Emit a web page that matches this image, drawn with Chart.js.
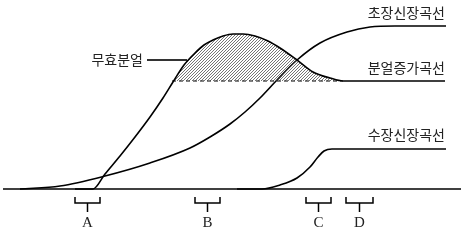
<!DOCTYPE html>
<html>
  <head>
    <meta charset="utf-8">
    <title>분얼 곡선</title>
    <style>
      body { margin: 0; background: #fff; }
      #rame { width: 463px; height: 240px; }
    </style>
  </head>
  <body>
    <div id="rame">
      <canvas id="chart" width="463" height="240"></canvas>
    </div>

    <script src="https://cdn.jsdelivr.net/npm/chart.js"></script>
    <script>
      // values (x along time, y = height above the base line)
      const stemX = [20, 60, 105, 150, 190, 210, 230, 245, 260, 277, 297, 320, 347, 370, 395, 446];
      const stemY = [0, 3, 13, 26, 41, 52, 65, 77, 91, 109, 129, 146, 157, 162, 163, 163];

      const tillerX = [75, 93, 105, 120, 135, 150, 163, 173, 184, 195, 204, 213, 223, 233, 243, 255, 268, 280, 297, 313, 330, 343, 445];
      const tillerY = [0, 0, 15, 33, 52, 72, 91, 107, 124, 136, 144, 149, 153, 155, 155, 153, 148, 141, 129, 117, 111, 108, 108];

      const panicleX = [237, 262, 280, 297, 310, 318, 324, 332, 446];
      const panicleY = [0, 0, 4, 11, 22, 32, 38, 40, 40];

      const effectiveLevel = 108;
      const dashStart = 172, dashEnd = 343;

      const bracketNames = ['A', 'B', 'C', 'D'];
      const bracketLeft = [75, 195, 306, 346];
      const bracketRight = [100, 220, 331, 373];

      const curveLabels = ['초장신장곡선', '분얼증가곡선', '수장신장곡선'];
      const curveLabelY = [176, 121, 54];

      const toPts = (xs, ys) => xs.map((x, i) => ({ x: x, y: ys[i] }));

      // hatch pattern ////
      const pc = document.createElement('canvas');
      pc.width = 3; pc.height = 3;
      const px = pc.getContext('2d');
      px.strokeStyle = '#3a3a3a';
      px.lineWidth = 0.7;
      px.beginPath();
      px.moveTo(0, 3); px.lineTo(3, 0);
      px.moveTo(-1, 1); px.lineTo(1, -1);
      px.moveTo(2, 4); px.lineTo(4, 2);
      px.stroke();
      const hatch = document.getElementById('chart').getContext('2d').createPattern(pc, 'repeat');

      const line = (data, extra) => Object.assign({
        data: data,
        borderColor: '#000',
        borderWidth: 1.6,
        pointRadius: 0,
        fill: false,
        cubicInterpolationMode: 'monotone'
      }, extra || {});

      const datasets = [
        line([{ x: 3, y: 0 }, { x: 461, y: 0 }], { borderWidth: 1.5 }),
        line(toPts(tillerX, tillerY), {
          fill: { target: { value: effectiveLevel }, above: hatch, below: 'rgba(0,0,0,0)' }
        }),
        line([{ x: dashStart, y: effectiveLevel }, { x: dashEnd, y: effectiveLevel }], { borderWidth: 1.1, borderDash: [4, 3] }),
        line(toPts(stemX, stemY)),
        line(toPts(panicleX, panicleY)),
        line([{ x: 147, y: 129 }, { x: 187, y: 129 }], { borderWidth: 2, borderColor: '#333' })
      ];

      for (let i = 0; i < bracketNames.length; i++) {
        const l = bracketLeft[i], r = bracketRight[i], m = (l + r) / 2;
        datasets.push(line([
          { x: l, y: -8 }, { x: l, y: -14 }, { x: r, y: -14 }, { x: r, y: -8 }
        ], { borderWidth: 1.5, cubicInterpolationMode: 'default', tension: 0 }));
        datasets.push(line([{ x: m, y: -14 }, { x: m, y: -23 }], { borderWidth: 1.5, tension: 0 }));
      }

      const textPlugin = {
        id: 'texts',
        afterDraw(chart) {
          const ctx = chart.ctx, sx = chart.scales.x, sy = chart.scales.y;
          ctx.save();
          ctx.fillStyle = '#222';
          ctx.textBaseline = 'middle';
          ctx.font = '14px "Noto Sans CJK KR"';
          ctx.textAlign = 'right';
          for (let i = 0; i < curveLabels.length; i++) {
            ctx.fillText(curveLabels[i], sx.getPixelForValue(445), sy.getPixelForValue(curveLabelY[i]));
          }
          ctx.fillText('무효분얼', sx.getPixelForValue(143), sy.getPixelForValue(129));
          ctx.textAlign = 'center';
          ctx.font = '15px "Liberation Serif"';
          for (let i = 0; i < bracketNames.length; i++) {
            const m = (bracketLeft[i] + bracketRight[i]) / 2;
            ctx.fillText(bracketNames[i], sx.getPixelForValue(m), sy.getPixelForValue(-34));
          }
          ctx.restore();
        }
      };

      new Chart(document.getElementById('chart'), {
        type: 'line',
        data: { datasets: datasets },
        options: {
          responsive: false,
          animation: false,
          devicePixelRatio: 1,
          layout: { padding: 0 },
          plugins: { legend: { display: false }, tooltip: { enabled: false } },
          scales: {
            x: { type: 'linear', min: 0, max: 463, display: false },
            y: { type: 'linear', min: -51, max: 189, display: false }
          }
        },
        plugins: [textPlugin]
      });
    </script>
  </body>
</html>
